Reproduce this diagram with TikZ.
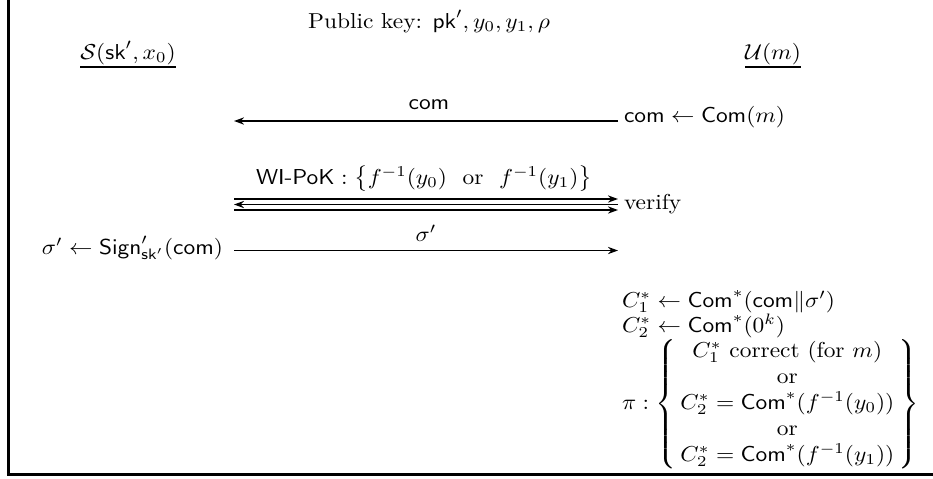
\documentclass[tikz,border=0pt]{standalone}
\usepackage{amsmath}
\usepackage{graphicx}
\usetikzlibrary{arrows.meta}
\newcommand{\Tx}[1]{\scalebox{1.17}[1.08]{#1}}
\tikzset{
 txt/.style={inner sep=0pt, outer sep=0pt},
 msg/.style={line width=0.95pt, -{Stealth[length=5pt,width=3.6pt]}},
 uline/.style={line width=1pt},
 frame/.style={line width=1.2pt},
}
\begin{document}
\begin{tikzpicture}[x=0.5pt,y=-0.5pt]
\useasboundingbox (0,0) rectangle (933,478);
\draw[frame] (8.5,0) -- (8.5,474.5) -- (933,474.5);
% header
\node[txt,anchor=base] (pk) at (429,28) {\Tx{Public key: $\mathsf{pk}', y_0, y_1, \rho$}};
\node[txt,anchor=base] (S) at (128,59) {\Tx{$\mathcal{S}(\mathsf{sk}', x_0)$}};
\draw[uline] ([yshift=-1.3pt]S.south west) -- ([yshift=-1.3pt]S.south east);
\node[txt,anchor=base] (U) at (773,59) {\Tx{$\mathcal{U}(m)$}};
\draw[uline] ([yshift=-1.3pt]U.south west) -- ([yshift=-1.3pt]U.south east);
% com
\coordinate (comL) at (234,121);
\coordinate (comR) at (618,121);
\draw[msg] (comR) -- (comL);
\node[txt,anchor=base] (comlbl) at (429,109) {\Tx{$\mathsf{com}$}};
\node[txt,anchor=base west] (comU) at (624,122) {\Tx{$\mathsf{com} \leftarrow \mathsf{Com}(m)$}};
% WI-PoK
\coordinate (wAL) at (234,199);
\coordinate (wAR) at (618,199);
\coordinate (wBL) at (234,204.5);
\coordinate (wBR) at (618,204.5);
\coordinate (wCL) at (234,210);
\coordinate (wCR) at (618,210);
\draw[msg,line width=1.2pt] (wAL) -- (wAR);
\draw[msg] (wBR) -- (wBL);
\draw[msg] (wCL) -- (wCR);
\node[txt,anchor=base] (wilbl) at (424,184) {\Tx{$\mbox{\textsf{WI-PoK}} : \bigl\{ f^{-1}(y_0)\ \text{ or }\ f^{-1}(y_1) \bigr\}$}};
\node[txt,anchor=base west] (ver) at (624,209) {\Tx{verify}};
% sigma
\coordinate (sL) at (234,250.5);
\coordinate (sR) at (618,250.5);
\draw[msg] (sL) -- (sR);
\node[txt,anchor=base] (slbl) at (426,241) {\Tx{$\sigma'$}};
\node[txt,anchor=base east] (sign) at (223,254) {\Tx{$\sigma' \leftarrow \mathsf{Sign}'_{\mathsf{sk}'}(\mathsf{com})$}};
% user computations
\node[txt,anchor=base west] (c1) at (622,307) {\Tx{$C_1^* \leftarrow \mathsf{Com}^*(\mathsf{com}\|\sigma')$}};
\node[txt,anchor=base west] (c2) at (622,332) {\Tx{$C_2^* \leftarrow \mathsf{Com}^*(0^k)$}};
\node[txt,anchor=west] (pi) at (622,404) {\Tx{$\pi : \left\{\begin{array}{@{\,}c@{\,}} C_1^* \text{ correct (for $m$)} \\ \text{or} \\ C_2^* = \mathsf{Com}^*(f^{-1}(y_0)) \\ \text{or} \\ C_2^* = \mathsf{Com}^*(f^{-1}(y_1)) \end{array}\right\}$}};
\end{tikzpicture}
\end{document}
